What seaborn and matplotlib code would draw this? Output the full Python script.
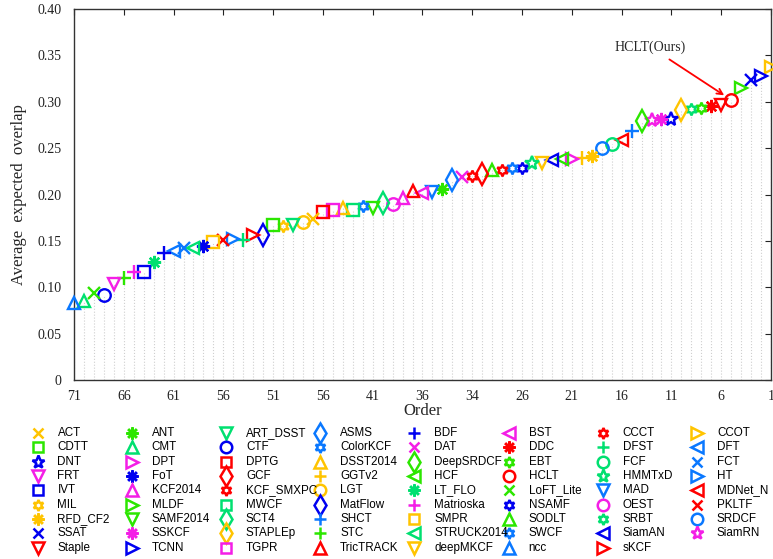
import matplotlib
matplotlib.use('Agg')
import matplotlib.pyplot as plt
import seaborn as sns

# trackers sorted by order (1 = best)
trackers = ['CCOT', 'TCNN', 'SSAT', 'MLDF', 'HCLT', 'Staple', 'DDC', 'EBT', 'SRBT', 'STAPLEp',
            'DNT', 'SSKCF', 'SiamRN', 'DeepSRDCF', 'SHCT', 'MDNet_N', 'FCF', 'SRDCF', 'RFD_CF2', 'GGTv2',
            'DPT', 'HCF', 'SiamAN', 'deepMKCF', 'HMMTxD', 'NSAMF', 'ColorKCF', 'KCF_SMXPC', 'SODLT', 'GCF',
            'CCCT', 'DAT', 'ASMS', 'ANT', 'MAD', 'BST', 'TricTRACK', 'KCF2014', 'OEST', 'SCT4',
            'SAMF2014', 'SWCF', 'MWCF', 'DSST2014', 'TGPR', 'DPTG', 'ACT', 'LGT', 'ART_DSST', 'MIL',
            'CDTT', 'MatFlow', 'sKCF', 'DFST', 'HT', 'PKLTF', 'SMPR', 'FoT', 'STRUCK2014', 'FCT',
            'DFT', 'BDF', 'LT_FLO', 'IVT', 'Matrioska', 'STC', 'FRT', 'CTF', 'LoFT_Lite', 'CMT', 'ncc']

# expected average overlap, same order
eao = [0.338, 0.328, 0.323, 0.315, 0.302, 0.296, 0.295, 0.2935, 0.292, 0.291,
       0.2815, 0.281, 0.280, 0.279, 0.269, 0.259, 0.254, 0.250, 0.242, 0.239,
       0.238, 0.238, 0.237, 0.2345, 0.234, 0.229, 0.2285, 0.2262, 0.226, 0.2217,
       0.220, 0.219, 0.2156, 0.2058, 0.203, 0.2018, 0.2036, 0.1957, 0.190, 0.191,
       0.185, 0.1877, 0.183, 0.1855, 0.183, 0.181, 0.174, 0.170, 0.1667, 0.1655,
       0.1667, 0.1565, 0.156, 0.151, 0.152, 0.151, 0.149, 0.145, 0.142, 0.142,
       0.1395, 0.137, 0.1275, 0.1167, 0.116, 0.1095, 0.104, 0.092, 0.0935, 0.085, 0.083]

order = list(range(1, len(trackers) + 1))

xtick_pos = [71, 66, 61, 56, 51, 46, 41, 36, 31, 26, 21, 16, 11, 6, 1]
xtick_lab = ['71', '66', '61', '56', '51', '56', '41', '36', '34', '26', '21', '16', '11', '6', '1']
ytick_pos = [0, 0.05, 0.10, 0.15, 0.20, 0.25, 0.30, 0.35, 0.40]
ytick_lab = ['0', '0.05', '0.10', '0.15', '0.20', '0.25', '0.30', '0.35', '0.40']

# colours and markers of the toolkit
Y, G, SG, B, M, R, DB = '#FFC400', '#2CE600', '#00E070', '#0000F0', '#F41EE6', '#FF0000', '#0A78FF'
HEX = (6, 1, 0)
AST = (8, 2, 0)
style = {
    'ACT': ('x', Y), 'CDTT': ('s', G), 'DNT': ('*', B), 'FRT': ('v', M), 'IVT': ('s', B),
    'MIL': (HEX, Y), 'RFD_CF2': (AST, Y), 'SSAT': ('x', B), 'Staple': ('v', R),
    'ANT': (AST, G), 'CMT': ('^', SG), 'DPT': ('>', M), 'FoT': (AST, B), 'KCF2014': ('^', M),
    'MLDF': ('>', G), 'SAMF2014': ('v', G), 'SSKCF': (AST, M), 'TCNN': ('>', B),
    'ART_DSST': ('v', SG), 'CTF': ('o', B), 'DPTG': ('s', R), 'GCF': ('d', R), 'KCF_SMXPC': (HEX, R),
    'MWCF': ('s', SG), 'SCT4': ('d', SG), 'STAPLEp': ('d', Y), 'TGPR': ('s', M),
    'ASMS': ('d', DB), 'ColorKCF': (HEX, DB), 'DSST2014': ('^', Y), 'GGTv2': ('+', Y), 'LGT': ('o', Y),
    'MatFlow': ('d', B), 'SHCT': ('+', DB), 'STC': ('+', G), 'TricTRACK': ('^', R),
    'BDF': ('+', B), 'DAT': ('x', M), 'DeepSRDCF': ('d', G), 'HCF': ('<', G), 'LT_FLO': (AST, SG),
    'Matrioska': ('+', M), 'SMPR': ('s', Y), 'STRUCK2014': ('<', SG), 'deepMKCF': ('v', Y),
    'BST': ('<', M), 'DDC': (AST, R), 'EBT': (HEX, G), 'HCLT': ('o', R), 'LoFT_Lite': ('x', G),
    'NSAMF': (HEX, B), 'SODLT': ('^', G), 'SWCF': (HEX, DB), 'ncc': ('^', DB),
    'CCCT': (HEX, R), 'DFST': ('+', SG), 'FCF': ('o', SG), 'HMMTxD': ('*', SG), 'MAD': ('v', DB),
    'OEST': ('o', M), 'SRBT': (HEX, SG), 'SiamAN': ('<', B), 'sKCF': ('>', R),
    'CCOT': ('>', Y), 'DFT': ('<', DB), 'FCT': ('x', DB), 'HT': ('>', DB), 'MDNet_N': ('<', R),
    'PKLTF': ('x', R), 'SRDCF': ('o', DB), 'SiamRN': ('*', M),
}


def msize(mk, scale=1.0):
    sizes = {'d': 11, '*': 10.5, 'x': 8, '+': 10, 's': 8.5, 'o': 9}
    if mk == HEX:
        return 8.5 * scale
    if mk == AST:
        return 9.5 * scale
    return sizes.get(mk, 9) * scale


sns.set_theme(style='white')
plt.rcParams['font.family'] = ['Liberation Serif', 'DejaVu Serif']

fig = plt.figure(figsize=(7.73, 5.59), dpi=100)
ax = fig.add_axes([74 / 773, 1 - 380 / 559, 697 / 773, 371 / 559])

# dotted stems
ax.vlines(order, 0, eao, colors='#cfcfcf', linestyles=':', linewidth=0.8, zorder=1)

for r, name, v in zip(order, trackers, eao):
    mk, c = style[name]
    ax.plot(r, v, linestyle='none', marker=mk, ms=msize(mk), mew=1.7,
            mec=c, mfc='none', color=c, clip_on=False, zorder=3)

ax.set_xlim(71, 1)
ax.set_ylim(0, 0.40)
ax.set_xticks(xtick_pos)
ax.set_xticklabels(xtick_lab)
ax.set_yticks(ytick_pos)
ax.set_yticklabels(ytick_lab)
ax.tick_params(direction='in', top=True, right=True, length=4, width=0.8,
               labelsize=10, colors='#222222', pad=7)
ax.tick_params(axis='y', pad=9)
for sp in ax.spines.values():
    sp.set_color('#333333')
    sp.set_linewidth(1.0)

ax.set_xlabel('Order', fontsize=12)
ax.xaxis.set_label_coords(0.5, -0.062)
ax.set_ylabel('Average  expected  overlap', fontsize=12)
ax.yaxis.set_label_coords(-0.068, 0.5)

ax.annotate('HCLT(Ours)', xy=(5, eao[4]), xytext=(-58, 38), textcoords='offset points',
            ha='center', va='center', fontsize=10,
            arrowprops=dict(arrowstyle='->', color='red', lw=1.3, shrinkA=3, shrinkB=6))

# legend, sorted names laid out row by row
lax = fig.add_axes([0, 0, 1, 1])
lax.set_xlim(0, 773)
lax.set_ylim(559, 0)
lax.axis('off')
for k, name in enumerate(sorted(trackers)):
    row, col = divmod(k, 8)
    xm = 37.5 + col * 94.2
    ym = 433 + row * 14.35
    mk, c = style[name]
    lax.plot(xm, ym, linestyle='none', marker=mk, ms=msize(mk, 0.92), mew=1.8,
             mec=c, mfc='none', color=c)
    lax.text(xm + 20, ym, name, fontsize=8.4, va='center', ha='left',
             family=['Liberation Sans', 'DejaVu Sans'], color='black')

fig.savefig('out.png', dpi=100)
